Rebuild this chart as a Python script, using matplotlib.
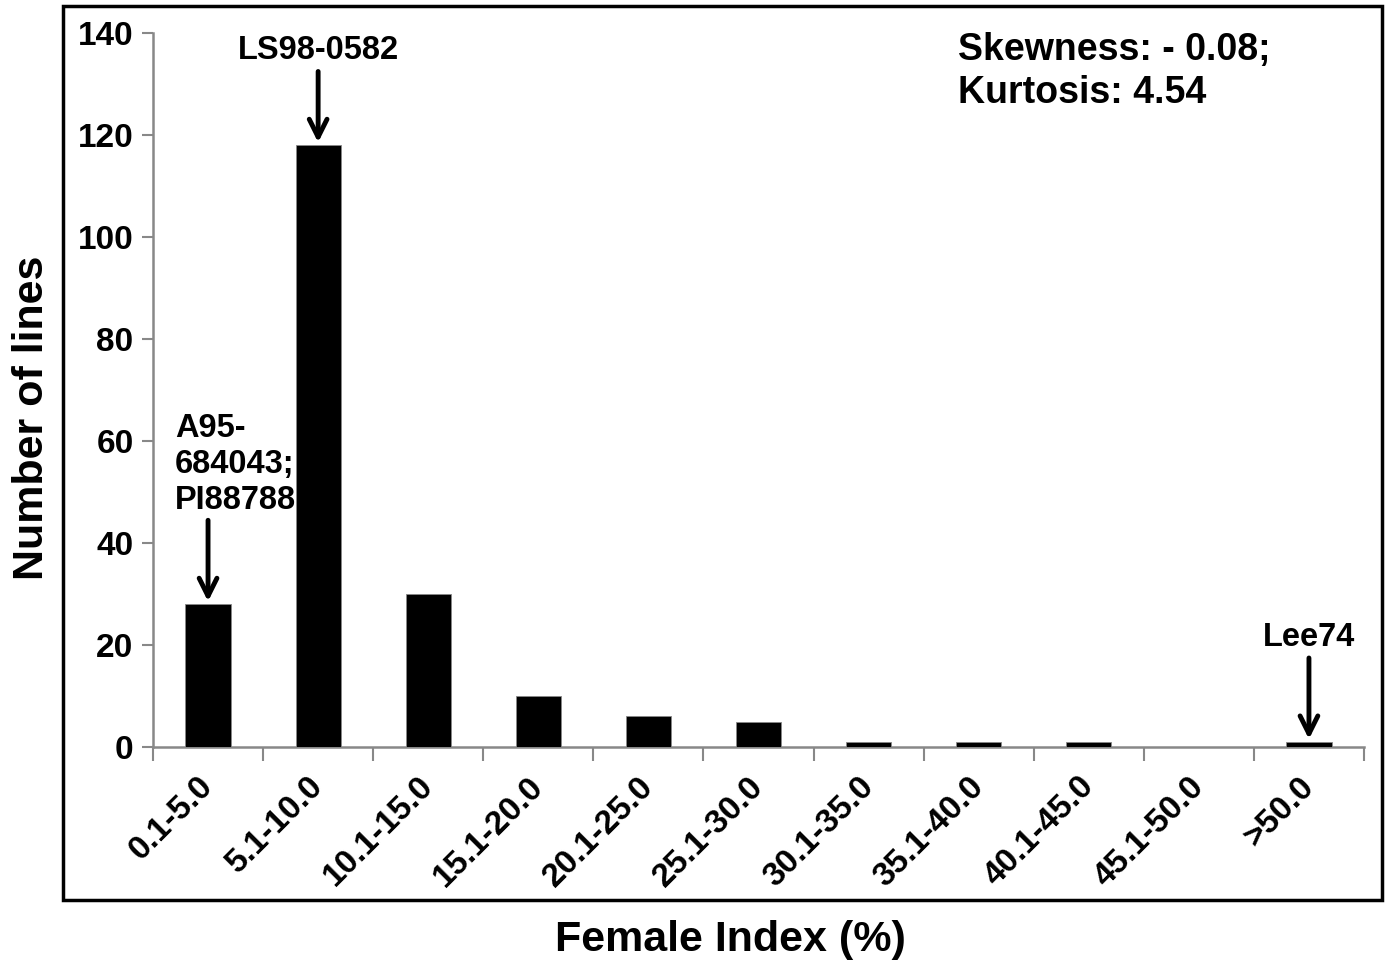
import matplotlib
matplotlib.use("Agg")
import matplotlib.pyplot as plt
from matplotlib.patches import Rectangle
from matplotlib.transforms import ScaledTranslation

categories = ["0.1-5.0", "5.1-10.0", "10.1-15.0", "15.1-20.0", "20.1-25.0",
              "25.1-30.0", "30.1-35.0", "35.1-40.0", "40.1-45.0", "45.1-50.0", ">50.0"]
counts = [28, 118, 30, 10, 6, 5, 1, 1, 1, 0, 1]
yticks = [0, 20, 40, 60, 80, 100, 120, 140]

plt.rcParams['font.family'] = ['Liberation Sans', 'DejaVu Sans']
plt.rcParams['font.weight'] = 'bold'

W, H = 1385, 967
fig = plt.figure(figsize=(W / 100, H / 100), dpi=100)
ax = fig.add_axes([153 / W, (H - 747) / H, (1364 - 153) / W, (747 - 33) / H])

x = list(range(len(categories)))
ax.bar(x, counts, width=0.41, color='black', edgecolor='#888888', linewidth=0.6, zorder=3)

ax.set_xlim(-0.5, len(categories) - 0.5)
ax.set_ylim(0, 140)
ax.set_yticks(yticks)
ax.set_yticklabels([str(v) for v in yticks], fontsize=24, fontweight='bold')
ax.set_xticks(x)
ax.set_xticklabels(categories, rotation=45, ha='right', va='center', rotation_mode='anchor',
                   fontsize=24, fontweight='bold')
offset = ScaledTranslation(0.10, 0, fig.dpi_scale_trans)
for lab in ax.get_xticklabels():
    lab.set_transform(lab.get_transform() + offset)
ax.set_xticks([i - 0.5 for i in range(len(categories) + 1)], minor=True)
ax.tick_params(axis='x', which='major', length=0, pad=25)
ax.tick_params(axis='x', which='minor', length=10, width=1.5, color='#888888', direction='out')
ax.tick_params(axis='y', length=8, width=1.5, color='#888888', direction='out', pad=6)

for s in ['top', 'right']:
    ax.spines[s].set_visible(False)
for s in ['left', 'bottom']:
    ax.spines[s].set_color('#888888')
    ax.spines[s].set_linewidth(1.8)

fig.text(32 / W, 1 - 418 / H, "Number of lines", fontsize=31, fontweight='bold',
         ha='center', va='center', rotation=90)
fig.text(730 / W, 1 - 940 / H, "Female Index (%)", fontsize=31, fontweight='bold',
         ha='center', va='center')

arrow = dict(arrowstyle='->', lw=3.5, color='black', mutation_scale=32)
ax.annotate("", xy=(1, counts[1]), xytext=(1, 133), arrowprops=arrow)
ax.text(1, 136.5, "LS98-0582", ha='center', va='center', fontsize=23.5, fontweight='bold')

ax.annotate("", xy=(0, counts[0]), xytext=(0, 45), arrowprops=arrow)
ax.text(-0.3, 45.3, "A95-\n684043;\nPI88788", ha='left', va='bottom', fontsize=23.5,
        fontweight='bold', linespacing=1.2)

ax.annotate("", xy=(10, counts[10]), xytext=(10, 18), arrowprops=arrow)
ax.text(10, 21.5, "Lee74", ha='center', va='center', fontsize=23.5, fontweight='bold')

fig.text(958 / W, 1 - 32 / H, "Skewness: - 0.08;\nKurtosis: 4.54",
         ha='left', va='top', fontsize=27, fontweight='bold', linespacing=1.25)

fig.patches.append(Rectangle((63 / W, 1 - 900 / H), (1382 - 63) / W, (900 - 6) / H,
                             transform=fig.transFigure, fill=False, edgecolor='black',
                             linewidth=2.5))

fig.savefig("out.png", dpi=100)
